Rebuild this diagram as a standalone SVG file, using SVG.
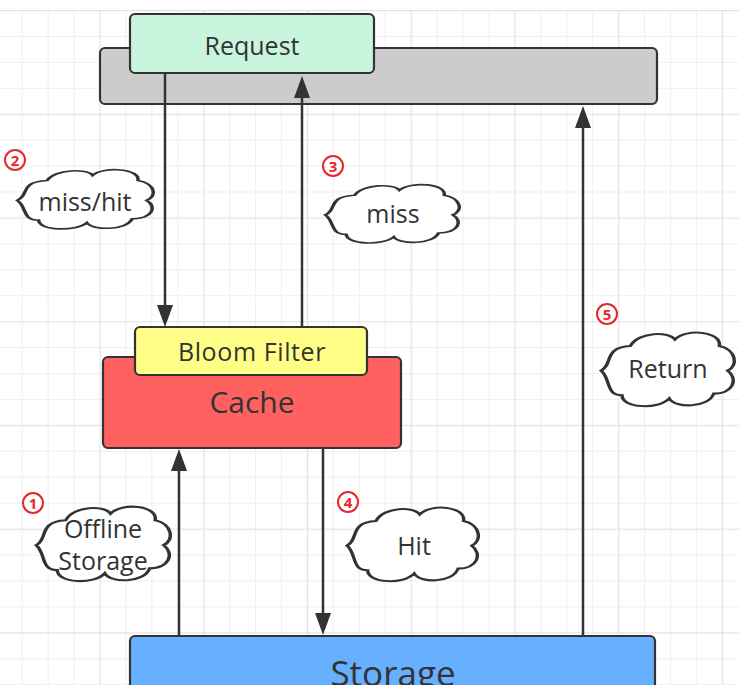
<svg xmlns="http://www.w3.org/2000/svg" xmlns:xlink="http://www.w3.org/1999/xlink" width="739" height="685" viewBox="0 0 739 685">
  <defs>
    <pattern id="grid" patternUnits="userSpaceOnUse" x="-4.22" y="10" width="103.72" height="103.72">
      <rect x="25.93" y="0" width="1" height="103.72" fill="#efefef"/>
      <rect x="51.86" y="0" width="1" height="103.72" fill="#efefef"/>
      <rect x="77.79" y="0" width="1" height="103.72" fill="#efefef"/>
      <rect x="0" y="25.93" width="103.72" height="1" fill="#efefef"/>
      <rect x="0" y="51.86" width="103.72" height="1" fill="#efefef"/>
      <rect x="0" y="77.79" width="103.72" height="1" fill="#efefef"/>
      <rect x="0" y="0" width="1.2" height="103.72" fill="#e2e2e2"/>
      <rect x="0" y="0" width="103.72" height="1.2" fill="#e2e2e2"/>
    </pattern>
    <marker id="ah" markerUnits="userSpaceOnUse" markerWidth="22" markerHeight="16" refX="11" refY="8" orient="auto">
      <path d="M0,0 L22,8 L0,16 Z" fill="#333333"/>
    </marker>
    <path id="cloud" d="M 3 52 C 12 44, 4 24, 24 22 C 30 4, 52 4, 56 14 C 64 0, 90 4, 88 22 C 100 26, 102 46, 94 52 C 102 62, 98 80, 84 80 C 80 98, 56 98, 52 86 C 44 100, 18 98, 18 82 C 6 82, 10 62, 3 52 Z"/>
    <style>
      .box { stroke: #333333; stroke-width: 2.2; }
      .lbl { font-family: "Open Sans", "Noto Sans", sans-serif; fill: #333333; text-anchor: middle; }
      .cl { fill: #ffffff; stroke: #333333; stroke-width: 2.5; vector-effect: non-scaling-stroke; }
      .conn { stroke: #333333; stroke-width: 2.5; fill: none; marker-end: url(#ah); }
      .num circle { fill: #ffffff; stroke: #e8262a; stroke-width: 2; }
      .num text { font-family: "Open Sans", "Noto Sans", sans-serif; font-weight: bold; font-size: 15px; fill: #e8262a; text-anchor: middle; }
    </style>
  </defs>

  <rect x="0" y="0" width="739" height="685" fill="#ffffff"/>
  <rect x="0" y="10" width="739" height="675" fill="url(#grid)"/>

  <g id="bar">
    <rect class="box" x="100" y="48" width="557" height="56" rx="5" fill="#cccccc"/>
  </g>
  <g id="request">
    <rect class="box" x="130" y="14" width="244" height="59" rx="5" fill="#c9f5df"/>
    <text class="lbl" x="252" y="55" font-size="25">Request</text>
  </g>

  <g id="connectors">
    <path class="conn" d="M165,73 V316"/>
    <path class="conn" d="M302,327 V87"/>
    <path class="conn" d="M583,636 V117"/>
    <path class="conn" d="M179,636 V460"/>
    <path class="conn" d="M323,448 V624"/>
  </g>

  <g id="cache">
    <rect class="box" x="103" y="357" width="298" height="91" rx="5" fill="#ff6161"/>
    <text class="lbl" x="252" y="413" font-size="30">Cache</text>
  </g>
  <g id="bloom">
    <rect class="box" x="135" y="327" width="232" height="48" rx="5" fill="#ffff88"/>
    <text class="lbl" x="252" y="361" font-size="25" letter-spacing="0.6">Bloom Filter</text>
  </g>
  <g id="storage">
    <rect class="box" x="130" y="636" width="525" height="80" rx="5" fill="#66b0ff"/>
    <text class="lbl" x="393" y="686" font-size="35">Storage</text>
  </g>

  <g id="cloud-misshit">
    <use xlink:href="#cloud" href="#cloud" class="cl" transform="translate(13,166) scale(1.42,0.66)"/>
    <text class="lbl" x="85" y="211" font-size="25">miss/hit</text>
  </g>
  <g id="cloud-miss">
    <use xlink:href="#cloud" href="#cloud" class="cl" transform="translate(321,181) scale(1.40,0.65)"/>
    <text class="lbl" x="393" y="223" font-size="25">miss</text>
  </g>
  <g id="cloud-return">
    <use xlink:href="#cloud" href="#cloud" class="cl" transform="translate(597,328) scale(1.39,0.82)"/>
    <text class="lbl" x="668" y="378" font-size="25">Return</text>
  </g>
  <g id="cloud-hit">
    <use xlink:href="#cloud" href="#cloud" class="cl" transform="translate(343,503) scale(1.37,0.82)"/>
    <text class="lbl" x="414" y="555" font-size="25">Hit</text>
  </g>
  <g id="cloud-offline">
    <use xlink:href="#cloud" href="#cloud" class="cl" transform="translate(32,502) scale(1.40,0.83)"/>
    <text class="lbl" x="103" y="538" font-size="25">Offline</text>
    <text class="lbl" x="103" y="570" font-size="25">Storage</text>
  </g>

  <g id="num1" class="num"><circle cx="33" cy="503" r="10"/><text x="33" y="508.5">1</text></g>
  <g id="num2" class="num"><circle cx="15" cy="160" r="10"/><text x="15" y="165.5">2</text></g>
  <g id="num3" class="num"><circle cx="333" cy="166" r="10"/><text x="333" y="171.5">3</text></g>
  <g id="num4" class="num"><circle cx="348" cy="502" r="10"/><text x="348" y="507.5">4</text></g>
  <g id="num5" class="num"><circle cx="607" cy="314" r="10"/><text x="607" y="319.5">5</text></g>
</svg>
